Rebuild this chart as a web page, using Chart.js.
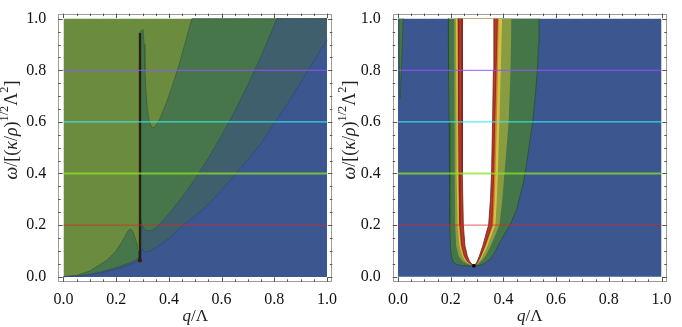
<!DOCTYPE html>
<html>
<head>
<meta charset="utf-8">
<script src="https://cdn.jsdelivr.net/npm/chart.js@4.4.1/dist/chart.umd.min.js"></script>
<style>
  html, body { margin: 0; padding: 0; background: #ffffff; }
  .panel { position: absolute; top: 0; height: 327px; }
</style>
</head>
<body>
<div class="panel" style="left:0;width:341px"><canvas id="leftChart" width="341" height="327"></canvas></div>
<div class="panel" style="left:336px;width:346px"><canvas id="rightChart" width="346" height="327"></canvas></div>
<script>
// tick labels (both axes, both panels)
const qTicks = [0, 0.2, 0.4, 0.6, 0.8, 1.0];
const wTicks = [0, 0.2, 0.4, 0.6, 0.8, 1.0];
// horizontal reference lines
const levels = [0.2, 0.4, 0.6, 0.8];

// ---- left panel: upper boundaries (q, w) of the stacked regions
const oliveTop = [[0, 1], [1, 1]];
const darkGreenTop = [
  [0, 0], [0.05, 0.005], [0.1, 0.022], [0.164, 0.063], [0.2, 0.1], [0.225, 0.14],
  [0.245, 0.178], [0.255, 0.185], [0.265, 0.172], [0.275, 0.14], [0.284, 0.105], [0.289, 0.09],
  [0.2905, 0.95], [0.302, 0.958], [0.306, 0.9], [0.309, 0.8], [0.313, 0.72], [0.318, 0.65],
  [0.326, 0.6], [0.336, 0.577], [0.348, 0.582], [0.365, 0.61], [0.385, 0.66], [0.41, 0.73],
  [0.435, 0.81], [0.46, 0.9], [0.487, 1.0], [1, 1]
];
const slateTop = [
  [0, 0], [0.05, 0.002], [0.1, 0.009], [0.15, 0.02], [0.2, 0.035], [0.25, 0.053], [0.27, 0.063],
  [0.289, 0.075], [0.2905, 0.23], [0.298, 0.2], [0.308, 0.182], [0.32, 0.178], [0.335, 0.18],
  [0.35, 0.188], [0.4, 0.243], [0.45, 0.308], [0.5, 0.38], [0.55, 0.46], [0.6, 0.547],
  [0.65, 0.642], [0.7, 0.745], [0.75, 0.855], [0.81, 1.0], [1, 1]
];
const blueTop = [
  [0, 0], [0.05, 0.002], [0.1, 0.007], [0.15, 0.016], [0.2, 0.029], [0.25, 0.046], [0.289, 0.062],
  [0.2905, 0.065], [0.296, 0.1], [0.3, 0.11], [0.305, 0.098], [0.315, 0.095], [0.33, 0.1],
  [0.35, 0.112], [0.4, 0.148], [0.455, 0.2], [0.5, 0.235], [0.55, 0.28], [0.6, 0.335],
  [0.656, 0.4], [0.7, 0.455], [0.752, 0.519], [0.803, 0.6], [0.85, 0.67], [0.928, 0.8], [1.0, 0.918]
];
const spike = [[0.29, 0.063], [0.29, 0.945]];
const spikeEdge = [[0.2865, 0.1], [0.2865, 0.945]];

// ---- right panel: U shaped bands (left edge top-down, then right edge bottom-up)
const rightBack = [[0, 1], [1, 1]];
const sliver = [[0.003, 1], [0.004, 0.85], [0.008, 0.69], [0.013, 0.8], [0.02, 1]];
const uOuter = [
  [0.191, 1], [0.192, 0.8], [0.194, 0.6], [0.196, 0.4], [0.197, 0.2], [0.199, 0.113], [0.203, 0.075],
  [0.21, 0.056], [0.222, 0.047], [0.245, 0.043], [0.285, 0.041],
  [0.311, 0.044], [0.33, 0.052], [0.35, 0.068], [0.365, 0.09], [0.38, 0.12], [0.4, 0.158], [0.425, 0.2],
  [0.45, 0.26], [0.475, 0.36], [0.485, 0.42], [0.497, 0.5], [0.511, 0.6], [0.521, 0.7], [0.529, 0.8],
  [0.533, 0.9], [0.535, 1]
];
const uOlive = [
  [0.213, 1], [0.214, 0.8], [0.215, 0.6], [0.216, 0.4], [0.217, 0.2], [0.221, 0.12], [0.23, 0.08],
  [0.245, 0.06], [0.262, 0.05], [0.285, 0.041],
  [0.305, 0.05], [0.318, 0.062], [0.332, 0.08], [0.352, 0.12], [0.373, 0.17], [0.385, 0.2],
  [0.396, 0.3], [0.404, 0.4], [0.42, 0.6], [0.427, 0.8], [0.431, 1]
];
const uYellow = [
  [0.22, 1], [0.221, 0.8], [0.222, 0.6], [0.223, 0.4], [0.226, 0.2], [0.233, 0.12], [0.244, 0.08],
  [0.256, 0.06], [0.27, 0.05], [0.287, 0.041],
  [0.3, 0.05], [0.309, 0.06], [0.321, 0.08], [0.34, 0.12], [0.362, 0.18], [0.37, 0.2],
  [0.375, 0.3], [0.379, 0.4], [0.385, 0.6], [0.39, 0.8], [0.395, 1]
];
const uOrange = [
  [0.225, 1], [0.226, 0.8], [0.227, 0.6], [0.228, 0.4], [0.231, 0.2], [0.238, 0.12], [0.248, 0.08],
  [0.26, 0.06], [0.273, 0.05], [0.287, 0.041],
  [0.299, 0.05], [0.306, 0.06], [0.317, 0.08], [0.334, 0.12], [0.355, 0.18], [0.362, 0.2],
  [0.367, 0.3], [0.37, 0.4], [0.375, 0.6], [0.379, 0.8], [0.383, 1]
];
const uRed = [
  [0.229, 1], [0.23, 0.8], [0.231, 0.6], [0.232, 0.4], [0.235, 0.2], [0.242, 0.12], [0.252, 0.08],
  [0.263, 0.06], [0.275, 0.05], [0.288, 0.041],
  [0.298, 0.05], [0.304, 0.06], [0.314, 0.08], [0.33, 0.12], [0.35, 0.18], [0.356, 0.2],
  [0.36, 0.3], [0.363, 0.4], [0.367, 0.6], [0.372, 0.8], [0.377, 1]
];
const uWhite = [
  [0.243, 1], [0.243, 0.8], [0.244, 0.6], [0.245, 0.4], [0.248, 0.2], [0.254, 0.12], [0.263, 0.08],
  [0.271, 0.06], [0.279, 0.05], [0.288, 0.042],
  [0.296, 0.05], [0.301, 0.06], [0.309, 0.08], [0.322, 0.12], [0.338, 0.18], [0.344, 0.2],
  [0.351, 0.3], [0.355, 0.4], [0.359, 0.6], [0.362, 0.8], [0.364, 1]
];
const tip = [[0.288, 0.042]];

const SERIF = '"Liberation Serif", "DejaVu Serif", serif';
const lineColors = ['rgba(215,40,40,0.6)', 'rgba(140,225,40,0.75)', 'rgba(60,230,240,0.85)', 'rgba(150,80,255,0.75)'];
const lineWidths = [1.2, 2.2, 1.2, 1.2];

const pts = arr => arr.map(([x, y]) => ({ x, y }));

function region(data, color, border, order, fillTo) {
    return {
        data: pts(data),
        backgroundColor: color,
        borderColor: border,
        borderWidth: border ? 0.8 : 0,
        fill: { value: fillTo },
        pointRadius: 0,
        tension: 0,
        order: order
    };
}

function refLines() {
    return levels.map((lv, i) => ({
        data: [{ x: 0, y: lv }, { x: 1, y: lv }],
        borderColor: lineColors[i],
        borderWidth: lineWidths[i],
        fill: false,
        pointRadius: 0,
        order: 1
    }));
}

// frame with inward ticks on all four sides
const framePlugin = {
    id: 'frame',
    afterDatasetsDraw(chart) {
        const { ctx, chartArea: a } = chart;
        const x = chart.scales.x, y = chart.scales.y;
        ctx.save();
        ctx.strokeStyle = '#9c9c9c';
        ctx.lineWidth = 1;
        ctx.strokeRect(Math.round(a.left) + 0.5, Math.round(a.top) + 0.5,
            Math.round(a.right - a.left) - 1, Math.round(a.bottom - a.top) - 1);
        ctx.strokeStyle = '#555555';
        for (let i = 0; i <= 20; i++) {
            const v = i / 20;
            const len = i % 4 === 0 ? 4.5 : 2.5;
            const px = Math.round(x.getPixelForValue(v)) + 0.5;
            const py = Math.round(y.getPixelForValue(v)) + 0.5;
            ctx.beginPath();
            ctx.moveTo(px, a.bottom); ctx.lineTo(px, a.bottom - len);
            ctx.moveTo(px, a.top); ctx.lineTo(px, a.top + len);
            ctx.moveTo(a.left, py); ctx.lineTo(a.left + len, py);
            ctx.moveTo(a.right, py); ctx.lineTo(a.right - len, py);
            ctx.stroke();
        }
        ctx.restore();
    }
};

// axis titles with italics and superscripts
function drawRich(ctx, parts, size) {
    const font = p => `${p.it ? 'italic ' : ''}${p.sup ? size * 0.68 : size}px ${SERIF}`;
    let w = 0;
    parts.forEach(p => { ctx.font = font(p); w += ctx.measureText(p.t).width; });
    let cx = -w / 2;
    parts.forEach(p => {
        ctx.font = font(p);
        ctx.fillText(p.t, cx, p.sup ? -size * 0.38 : 0);
        cx += ctx.measureText(p.t).width;
    });
}

const xTitle = [{ t: 'q', it: true }, { t: '/Λ' }];
const yTitle = [
    { t: 'ω', it: true }, { t: '/[(' }, { t: 'κ', it: true }, { t: '/' }, { t: 'ρ', it: true },
    { t: ')' }, { t: '1/2', sup: true }, { t: 'Λ' }, { t: '2', sup: true }, { t: ']' }
];

const titlePlugin = {
    id: 'axisTitles',
    afterDraw(chart, args, opts) {
        const { ctx } = chart;
        const x = chart.scales.x;
        ctx.save();
        ctx.fillStyle = '#222222';
        ctx.textBaseline = 'middle';
        ctx.save();
        ctx.translate(x.getPixelForValue(0.5), 317);
        drawRich(ctx, xTitle, 17);
        ctx.restore();
        ctx.translate(opts.yTitleX, 130);
        ctx.rotate(-Math.PI / 2);
        drawRich(ctx, yTitle, 18);
        ctx.restore();
    }
};

function makePanel(id, datasets, yWidth, rightPad, yTitleX) {
    return new Chart(document.getElementById(id), {
        type: 'line',
        data: { datasets: datasets },
        plugins: [framePlugin, titlePlugin],
        options: {
            responsive: false,
            animation: false,
            events: [],
            layout: { padding: { left: 0, right: rightPad, top: 8.2, bottom: 0 } },
            plugins: {
                legend: { display: false },
                tooltip: { enabled: false },
                axisTitles: { yTitleX: yTitleX }
            },
            scales: {
                x: {
                    type: 'linear', min: -0.02, max: 1.02,
                    afterBuildTicks: s => { s.ticks = qTicks.map(v => ({ value: v })); },
                    afterFit: s => { s.height = 45.2; },
                    grid: { display: false },
                    border: { display: false },
                    ticks: {
                        autoSkip: false, maxRotation: 0, padding: 0, color: '#111111',
                        font: { family: SERIF, size: 16 },
                        callback: v => v.toFixed(1)
                    }
                },
                y: {
                    type: 'linear', min: -0.02, max: 1.02,
                    afterBuildTicks: s => { s.ticks = wTicks.map(v => ({ value: v })); },
                    afterFit: s => { s.width = yWidth; },
                    grid: { display: false },
                    border: { display: false },
                    ticks: {
                        autoSkip: false, padding: 4, color: '#111111',
                        font: { family: SERIF, size: 16 },
                        callback: v => v.toFixed(1)
                    }
                }
            }
        }
    });
}

const leftSets = [
    region(oliveTop, '#6b8c3e', null, 20, 0),
    region(darkGreenTop, '#46764a', '#3a5f3a', 19, 0),
    region(slateTop, '#3f5f6c', '#36505a', 18, 0),
    region(blueTop, '#3c5690', '#33487a', 17, 0),
    { data: pts(spikeEdge), borderColor: 'rgba(215,175,60,0.85)', borderWidth: 1.5, pointRadius: 0, fill: false, order: 5 },
    { data: pts(spike), borderColor: '#1c2418', borderWidth: 2.6, pointRadius: [2, 0], pointBackgroundColor: '#3a1a10', pointBorderWidth: 0, fill: false, order: 4 },
    ...refLines()
];

const rightSets = [
    region(rightBack, '#3c5690', null, 20, 0),
    region(sliver, '#44764a', '#2f5530', 19, 1),
    region(uOuter, '#44764a', '#2c4c30', 18, 1),
    region(uOlive, '#8a9c40', null, 17, 1),
    region(uYellow, '#d4c044', null, 16, 1),
    region(uOrange, '#d27a30', null, 15, 1),
    region(uRed, '#b43a2a', '#8a2418', 14, 1),
    region(uWhite, '#ffffff', '#7a1c18', 13, 1),
    { data: pts(tip), pointRadius: 2, pointBackgroundColor: '#111111', pointBorderWidth: 0, showLine: false, fill: false, order: 12 },
    ...refLines()
];

makePanel('leftChart', leftSets, 58.2, 8.7, 12);
makePanel('rightChart', rightSets, 56.7, 15.2, 14);
</script>
</body>
</html>
